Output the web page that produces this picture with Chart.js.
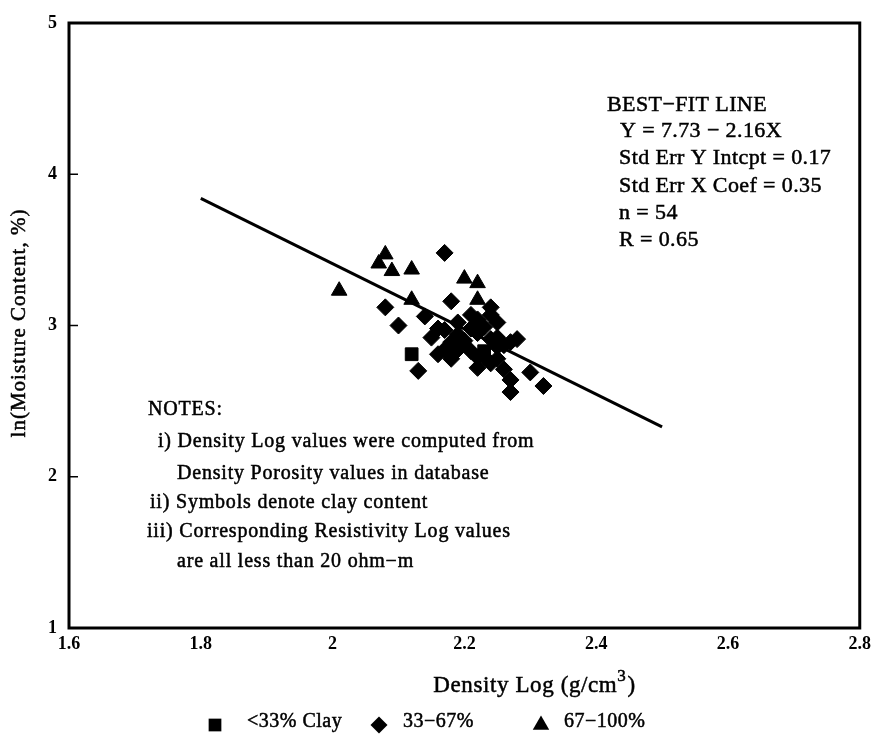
<!DOCTYPE html>
<html>
<head>
<meta charset="utf-8">
<script src="https://cdn.jsdelivr.net/npm/chart.js@4.4.1/dist/chart.umd.min.js"></script>
<style>
  html, body { margin: 0; padding: 0; background: #fff; }
  #wrap { width: 877px; height: 738px; }
</style>
</head>
<body>
<div id="wrap"><canvas id="moisture-density-canvas" width="877" height="738"></canvas></div>
<script>
// data
const clayLowDensity = [2.12, 2.20, 2.23];
const clayLowMoisture = [2.81, 2.87, 2.83];

const clayMidDensity = [2.17, 2.08, 2.10, 2.14, 2.18, 2.13, 2.16, 2.27, 2.30, 2.32,
    2.15, 2.16, 2.17, 2.18, 2.17, 2.19, 2.19, 2.20, 2.21, 2.21, 2.22, 2.22, 2.23, 2.24, 2.24, 2.25,
    2.24, 2.25, 2.25, 2.26, 2.27, 2.28, 2.23, 2.22, 2.24, 2.25, 2.26, 2.22, 2.21, 2.19, 2.18, 2.27];
const clayMidMoisture = [3.48, 3.12, 3.00, 3.06, 3.16, 2.70, 2.81, 2.56, 2.69, 2.60,
    2.92, 2.98, 2.97, 2.89, 2.84, 3.02, 2.94, 2.90, 3.07, 2.98, 2.95, 3.04, 2.99, 3.12, 3.07, 3.02,
    2.91, 2.86, 2.92, 2.87, 2.89, 2.91, 2.79, 2.79, 2.75, 2.78, 2.71, 2.72, 2.83, 2.84, 2.78, 2.64];

const clayHighDensity = [2.01, 2.08, 2.07, 2.09, 2.12, 2.20, 2.22, 2.12, 2.22];
const clayHighMoisture = [3.23, 3.47, 3.41, 3.36, 3.37, 3.31, 3.28, 3.17, 3.17];

const fitLineDensity = [1.80, 2.50];
const fitLineMoisture = [3.84, 2.33];

const xTickLabels = ['1.6', '1.8', '2', '2.2', '2.4', '2.6', '2.8'];
const yTickLabels = ['1', '2', '3', '4', '5'];
const seriesLabels = ['<33% Clay', '33\u221267%', '67\u2212100%'];

const fitText = ['BEST\u2212FIT LINE', 'Y = 7.73 \u2212 2.16X', 'Std Err Y Intcpt = 0.17',
    'Std Err X Coef = 0.35', 'n = 54', 'R = 0.65'];
const notesText = ['NOTES:', 'i) Density Log values were computed from', 'Density Porosity values in database',
    'ii) Symbols denote clay content', 'iii) Corresponding Resistivity Log values', 'are all less than 20 ohm\u2212m'];

const SERIF = '"Liberation Serif", "DejaVu Serif", serif';
const toPoints = (xs, ys) => xs.map((x, i) => ({ x: x, y: ys[i] }));

function drawMarker(ctx, style, x, y, r) {
    ctx.beginPath();
    if (style === 'rect') {
        const s = Math.SQRT1_2 * r;
        ctx.rect(x - s, y - s, 2 * s, 2 * s);
    } else if (style === 'rectRot') {
        ctx.moveTo(x - r, y); ctx.lineTo(x, y - r); ctx.lineTo(x + r, y); ctx.lineTo(x, y + r);
        ctx.closePath();
    } else {
        ctx.moveTo(x, y - r);
        ctx.lineTo(x + r * Math.sin(2 * Math.PI / 3), y + r / 2);
        ctx.lineTo(x - r * Math.sin(2 * Math.PI / 3), y + r / 2);
        ctx.closePath();
    }
    ctx.fill();
}

// scanned text looks a bit heavier than a plain regular face
function inkText(ctx, text, x, y) {
    ctx.fillText(text, x, y);
    ctx.strokeText(text, x, y);
}

// frame, inner ticks, annotations and legend
const decorations = {
    id: 'decorations',
    afterDraw(chart) {
        const ctx = chart.ctx;
        const a = chart.chartArea;
        const yScale = chart.scales.y;
        ctx.save();
        ctx.strokeStyle = '#000';
        ctx.lineWidth = 3;
        ctx.strokeRect(a.left, a.top, a.right - a.left, a.bottom - a.top);

        ctx.lineWidth = 1.5;
        [2, 3, 4].forEach(v => {
            const py = yScale.getPixelForValue(v);
            ctx.beginPath(); ctx.moveTo(a.left, py); ctx.lineTo(a.left + 9, py); ctx.stroke();
        });

        ctx.fillStyle = '#000';
        ctx.lineWidth = 0.5;
        ctx.textBaseline = 'middle';
        ctx.textAlign = 'left';

        ctx.font = '22px ' + SERIF;
        ctx.letterSpacing = '0.4px';
        const fitPos = [[607, 105], [620, 131], [619, 158], [619, 186], [619, 213], [619, 240]];
        fitText.forEach((t, i) => inkText(ctx, t, fitPos[i][0], fitPos[i][1]));

        ctx.font = '20px ' + SERIF;
        ctx.letterSpacing = '0.8px';
        const notePos = [[148, 410], [158, 442], [177, 474], [150, 503], [147, 532], [177, 562]];
        notesText.forEach((t, i) => inkText(ctx, t, notePos[i][0], notePos[i][1]));

        // x axis title with a raised 3
        ctx.font = '23px ' + SERIF;
        ctx.letterSpacing = '0.6px';
        const head = 'Density Log (g/cm';
        const headW = ctx.measureText(head).width;
        ctx.font = '17px ' + SERIF;
        const supW = ctx.measureText('3').width;
        ctx.font = '23px ' + SERIF;
        const tailW = ctx.measureText(')').width;
        let tx = 534 - (headW + supW + tailW) / 2;
        inkText(ctx, head, tx, 686);
        tx += headW;
        ctx.font = '17px ' + SERIF;
        inkText(ctx, '3', tx, 677);
        tx += supW + 1;
        ctx.font = '23px ' + SERIF;
        inkText(ctx, ')', tx, 686);

        // y axis title
        ctx.font = '21px ' + SERIF;
        ctx.letterSpacing = '1px';
        ctx.textAlign = 'center';
        ctx.save();
        ctx.translate(19, 323);
        ctx.rotate(-Math.PI / 2);
        inkText(ctx, 'ln(Moisture Content, %)', 0, 0);
        ctx.restore();

        // legend
        ctx.textAlign = 'left';
        ctx.font = '20px ' + SERIF;
        ctx.letterSpacing = '0.5px';
        const legendPos = [[215, 247], [379, 403], [541, 564]];
        const styles = ['rect', 'rectRot', 'triangle'];
        const radii = [9, 8.5, 9.5];
        seriesLabels.forEach((lbl, i) => {
            drawMarker(ctx, styles[i], legendPos[i][0], 725, radii[i]);
            inkText(ctx, lbl, legendPos[i][1], 722);
        });
        ctx.restore();
    }
};

const canvasContext = document.getElementById('moisture-density-canvas').getContext('2d');

new Chart(canvasContext, {
    type: 'scatter',
    data: {
        datasets: [
            {
                label: seriesLabels[0],
                data: toPoints(clayLowDensity, clayLowMoisture),
                pointStyle: 'rect', pointRadius: 9,
                backgroundColor: '#000', borderColor: '#000', borderWidth: 1
            },
            {
                label: seriesLabels[1],
                data: toPoints(clayMidDensity, clayMidMoisture),
                pointStyle: 'rectRot', pointRadius: 8.5,
                backgroundColor: '#000', borderColor: '#000', borderWidth: 1
            },
            {
                label: seriesLabels[2],
                data: toPoints(clayHighDensity, clayHighMoisture),
                pointStyle: 'triangle', pointRadius: 9,
                backgroundColor: '#000', borderColor: '#000', borderWidth: 1
            },
            {
                type: 'line',
                label: 'Best-fit line',
                data: toPoints(fitLineDensity, fitLineMoisture),
                borderColor: '#000', borderWidth: 3, pointRadius: 0, fill: false
            }
        ]
    },
    options: {
        responsive: false,
        animation: false,
        devicePixelRatio: 1,
        layout: { padding: { top: 23, right: 9, left: 0, bottom: 0 } },
        plugins: {
            legend: { display: false },
            tooltip: { enabled: false }
        },
        scales: {
            x: {
                type: 'linear',
                min: 1.6, max: 2.8,
                afterFit: scale => { scale.height = 110; },
                grid: { display: false, drawTicks: false },
                border: { display: false },
                ticks: {
                    stepSize: 0.2,
                    padding: 6,
                    color: '#000',
                    font: { family: SERIF, size: 18, weight: 'bold' },
                    callback: (v, i) => xTickLabels[i]
                }
            },
            y: {
                type: 'linear',
                min: 1, max: 5,
                afterFit: scale => { scale.width = 69; },
                grid: { display: false, drawTicks: false },
                border: { display: false },
                ticks: {
                    stepSize: 1,
                    padding: 12,
                    color: '#000',
                    font: { family: SERIF, size: 18, weight: 'bold' },
                    callback: (v, i) => yTickLabels[i]
                }
            }
        }
    },
    plugins: [decorations]
});
</script>
</body>
</html>
